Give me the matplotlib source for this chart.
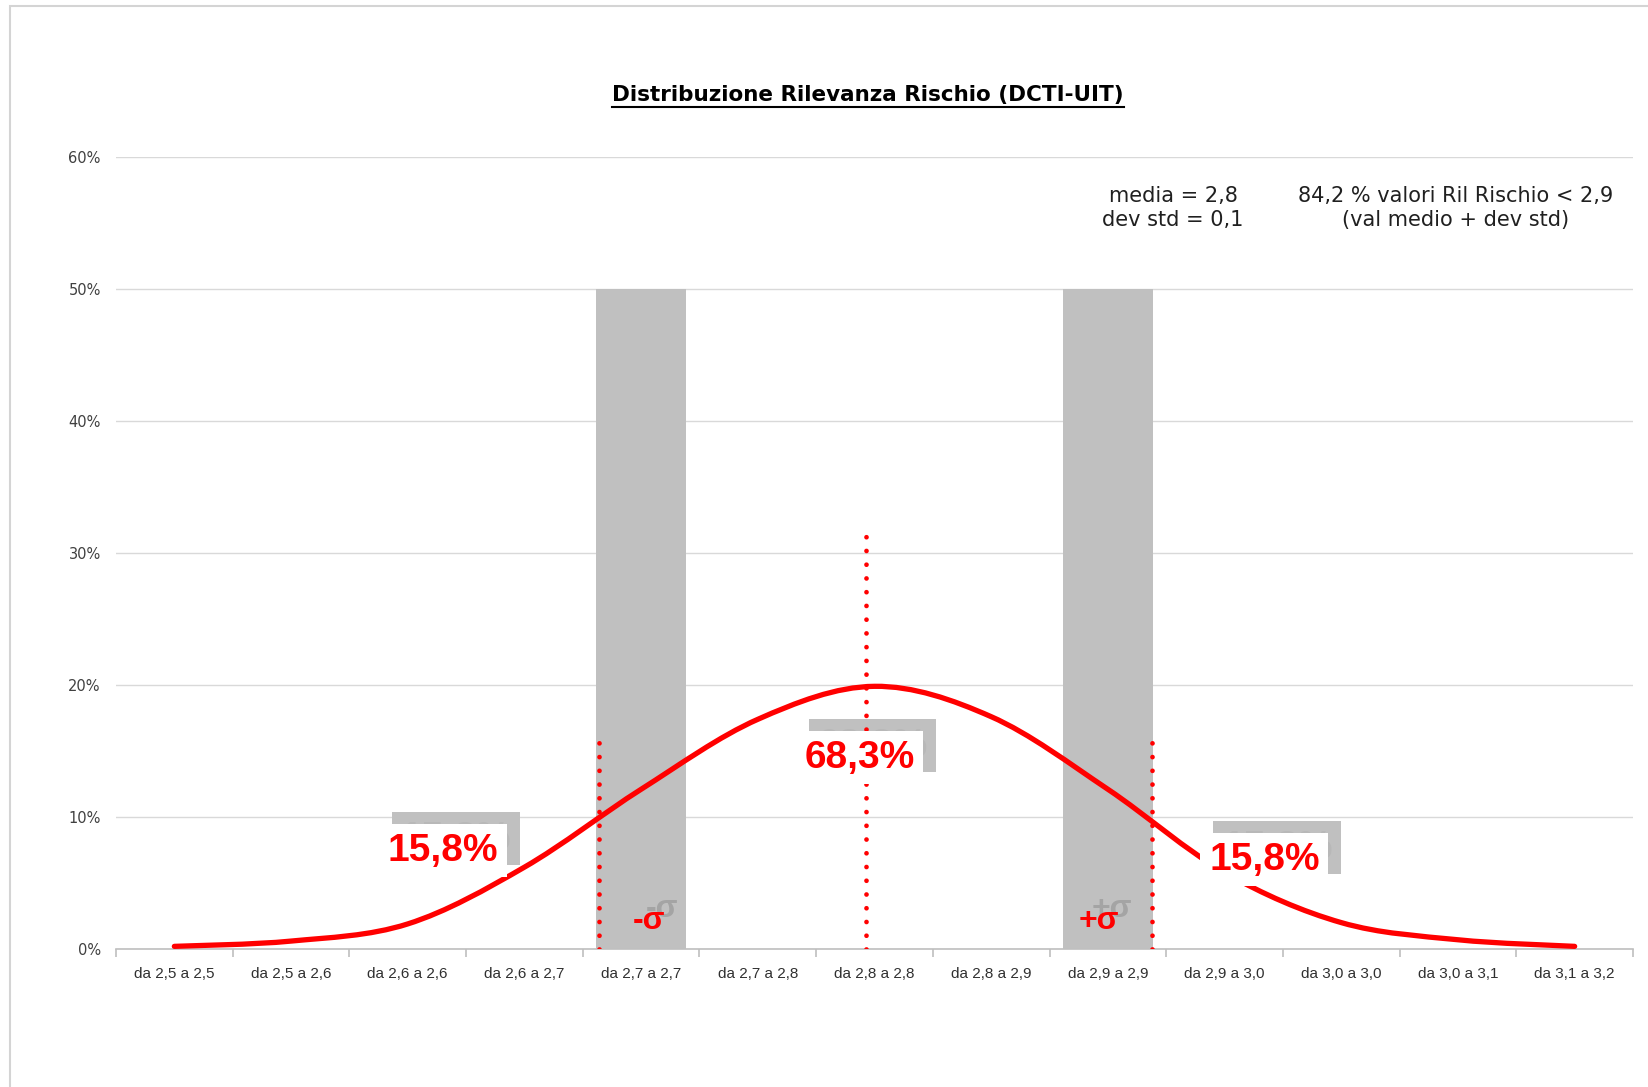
import matplotlib
matplotlib.use("Agg")
import matplotlib.pyplot as plt
import numpy as np
from matplotlib.path import Path
from matplotlib.patches import PathPatch, Rectangle
from matplotlib.lines import Line2D
import matplotlib.transforms as mtransforms

# ---------------- data ----------------
categories = ["da 2,5 a 2,5", "da 2,5 a 2,6", "da 2,6 a 2,6", "da 2,6 a 2,7",
              "da 2,7 a 2,7", "da 2,7 a 2,8", "da 2,8 a 2,8", "da 2,8 a 2,9",
              "da 2,9 a 2,9", "da 2,9 a 3,0", "da 3,0 a 3,0", "da 3,0 a 3,1",
              "da 3,1 a 3,2"]
curve_values = [0.002, 0.006, 0.019, 0.062, 0.121, 0.174, 0.199, 0.176,
                0.121, 0.058, 0.020, 0.007, 0.002]
sigma_bars = [0, 0, 0, 0, 0.5, 0, 0, 0, 0.5, 0, 0, 0, 0]
yticks = [0, 0.1, 0.2, 0.3, 0.4, 0.5, 0.6]
ytick_labels = ["0%", "10%", "20%", "30%", "40%", "50%", "60%"]

# marker lines (x position in category units, top value)
dotted_x = [3.64, 5.925, 8.376]
dotted_top = [0.163, 0.318, 0.163]

# percentage labels: text, x, y
pct_labels = ["15,8%", "68,3%", "15,8%"]
pct_x = [2.30, 5.87, 9.34]
pct_y = [0.0745, 0.1450, 0.0675]

sigma_labels = ["-σ", "+σ"]
sigma_x = [4.07, 7.92]
sigma_y = [0.0215, 0.0215]

title = "Distribuzione Rilevanza Rischio (DCTI-UIT)"
note1 = "media = 2,8\ndev std = 0,1"
note2 = "84,2 % valori Ril Rischio < 2,9\n(val medio + dev std)"

RED = "#ff0000"
GRAY = "#c0c0c0"

W, H = 1648, 1087
fig = plt.figure(figsize=(W / 100, H / 100), dpi=100)
fig.patch.set_facecolor("white")

# chart border (only top/left visible)
fig.add_artist(Rectangle((10 / W, -0.1), 1.2, 1 - 6 / H + 0.1, transform=fig.transFigure,
                         fill=False, edgecolor="#d4d4d4", linewidth=1.5))

ax = fig.add_axes([116 / W, 1 - 949 / H, (1633 - 116) / W, (949 - 157) / H])
n = len(categories)
x = np.arange(n)
ax.set_xlim(-0.5, n - 0.5)
ax.set_ylim(0, 0.6)

for s in ["top", "right", "left"]:
    ax.spines[s].set_visible(False)
ax.spines["bottom"].set_color("#bfbfbf")
ax.spines["bottom"].set_linewidth(1.2)

ax.set_yticks(yticks)
ax.set_yticklabels(ytick_labels, family="DejaVu Sans", fontsize=10.5, color="#404040")
ax.tick_params(axis="y", length=0, pad=11)
ax.grid(axis="y", color="#d9d9d9", linewidth=1.0)
ax.set_axisbelow(True)

ax.set_xticks(x)
ax.set_xticklabels(categories, family=["Liberation Sans Narrow", "Liberation Sans"],
                   fontsize=11, color="#303030")
ax.tick_params(axis="x", length=0, pad=13)
ax.set_xticks(np.arange(-0.5, n, 1.0), minor=True)
ax.tick_params(axis="x", which="minor", length=6, color="#bfbfbf", width=1.2)

# gray sigma bars
ax.bar(x, sigma_bars, width=0.766, color=GRAY, zorder=2)

# smooth red curve (Catmull-Rom -> cubic Bezier, like Excel smoothing)
xs = x.astype(float)
ys = np.array(curve_values)
verts = [(xs[0], ys[0])]
codes = [Path.MOVETO]
for i in range(n - 1):
    p0 = np.array([xs[max(i - 1, 0)], ys[max(i - 1, 0)]])
    p1 = np.array([xs[i], ys[i]])
    p2 = np.array([xs[i + 1], ys[i + 1]])
    p3 = np.array([xs[min(i + 2, n - 1)], ys[min(i + 2, n - 1)]])
    c1 = p1 + (p2 - p0) / 6.0
    c2 = p2 - (p3 - p1) / 6.0
    verts += [tuple(c1), tuple(c2), tuple(p2)]
    codes += [Path.CURVE4] * 3
ax.add_patch(PathPatch(Path(verts, codes), fill=False, edgecolor=RED, linewidth=3.8,
                       capstyle="round", zorder=4))

# dotted vertical lines
for dx, top in zip(dotted_x, dotted_top):
    ax.plot([dx, dx], [0, top], color=RED, linewidth=3.4,
            linestyle=(0, (0.01, 2.9)), dash_capstyle="round", zorder=5)

# percentage labels with shadow boxes
shadow_off = mtransforms.offset_copy(ax.transData, fig=fig, x=13, y=12, units="dots")
for t, lx, ly in zip(pct_labels, pct_x, pct_y):
    ax.text(lx, ly, t, transform=shadow_off, ha="center", va="center",
            fontsize=28, fontweight="bold", family="Liberation Sans", color="#b8b8b8",
            bbox=dict(boxstyle="square,pad=0.22", fc=GRAY, ec="none"), zorder=4.5)
    ax.text(lx, ly, t, ha="center", va="center",
            fontsize=28, fontweight="bold", family="Liberation Sans", color=RED,
            bbox=dict(boxstyle="square,pad=0.22", fc="white", ec="none"), zorder=6)

# sigma labels with gray ghost
ghost_off = mtransforms.offset_copy(ax.transData, fig=fig, x=13, y=12, units="dots")
for t, lx, ly in zip(sigma_labels, sigma_x, sigma_y):
    ax.text(lx, ly, t, transform=ghost_off, ha="center", va="center",
            fontsize=23, fontweight="bold", family="Liberation Sans", color="#a4a4a4", zorder=3)
    ax.text(lx, ly, t, ha="center", va="center",
            fontsize=23, fontweight="bold", family="Liberation Sans", color=RED, zorder=6)

# notes
fig.text(1173 / W, 1 - 208 / H, note1, ha="center", va="center", fontsize=15,
         family="DejaVu Sans", color="#202020", linespacing=1.25)
fig.text(1456 / W, 1 - 208 / H, note2, ha="center", va="center", fontsize=15,
         family="DejaVu Sans", color="#202020", linespacing=1.25)

# title with underline
tt = fig.text(868 / W, 1 - 95 / H, title, ha="center", va="center", fontsize=15.5,
              fontweight="bold", family="DejaVu Sans", color="black")
fig.canvas.draw()
bb = tt.get_window_extent()
uy = 1 - 107 / H
fig.add_artist(Line2D([bb.x0 / W, bb.x1 / W], [uy, uy], transform=fig.transFigure,
                      color="black", linewidth=1.5))

fig.savefig("out.png", dpi=100, facecolor="white")
